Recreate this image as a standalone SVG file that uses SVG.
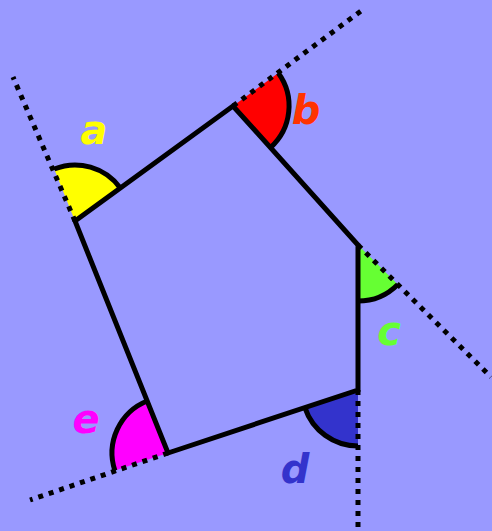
<svg xmlns="http://www.w3.org/2000/svg" width="492" height="531" viewBox="0 0 492 531">
<style>
.dot{fill:none;stroke:#000;stroke-width:5;stroke-dasharray:5 6}
.arc{fill:none;stroke:#000;stroke-width:5}
.side{fill:none;stroke:#000;stroke-width:5;stroke-linejoin:miter}
.lbl{font-family:"Comic Sans MS","DejaVu Sans",sans-serif;font-weight:bold;font-style:italic;font-size:40px;text-anchor:middle}
</style>
<rect width="492" height="531" fill="#9999FF"/>
<g id="angle-a">
<path d="M75,221 L54.2,169 A56,56 0 0,1 120.3,188 Z" fill="#FFFF00"/>
<path class="arc" d="M54.2,169 A56,56 0 0,1 120.3,188"/>
<text class="lbl" x="94" y="144" fill="#FFFF00">a</text>
</g>
<g id="angle-b">
<path d="M233,106 L278.3,73 A56,56 0 0,1 270.5,147.6 Z" fill="#FF0000"/>
<path class="arc" d="M278.3,73 A56,56 0 0,1 270.5,147.6"/>
<text class="lbl" x="306" y="124" fill="#FF3300">b</text>
</g>
<g id="angle-c">
<path d="M358,245 L397.8,284.4 A56,56 0 0,1 358,301 Z" fill="#66FF33"/>
<path class="arc" d="M397.8,284.4 A56,56 0 0,1 358,301"/>
<text class="lbl" x="389" y="345" fill="#66FF33">c</text>
</g>
<g id="angle-d">
<path d="M358,390 L358,446 A56,56 0 0,1 304.9,407.6 Z" fill="#3333CC"/>
<path class="arc" d="M358,446 A56,56 0 0,1 304.9,407.6"/>
<text class="lbl" x="295" y="483" fill="#3333CC">d</text>
</g>
<g id="angle-e">
<path d="M168,453 L114.9,470.6 A56,56 0 0,1 147.2,401 Z" fill="#FF00FF"/>
<path class="arc" d="M114.9,470.6 A56,56 0 0,1 147.2,401"/>
<text class="lbl" x="86" y="433" fill="#FF00FF">e</text>
</g>
<g id="connectors">
<line class="dot" x1="75" y1="221" x2="13" y2="77"/>
<line class="dot" x1="233" y1="106" x2="365" y2="8"/>
<line class="dot" x1="358" y1="245" x2="491" y2="377"/>
<line class="dot" x1="358" y1="390" x2="358" y2="527"/>
<line class="dot" x1="168" y1="453" x2="30" y2="500"/>
</g>
<g id="pentagon">
<polygon class="side" points="75,221 233,106 358,245 358,390 168,453"/>
</g>
</svg>
